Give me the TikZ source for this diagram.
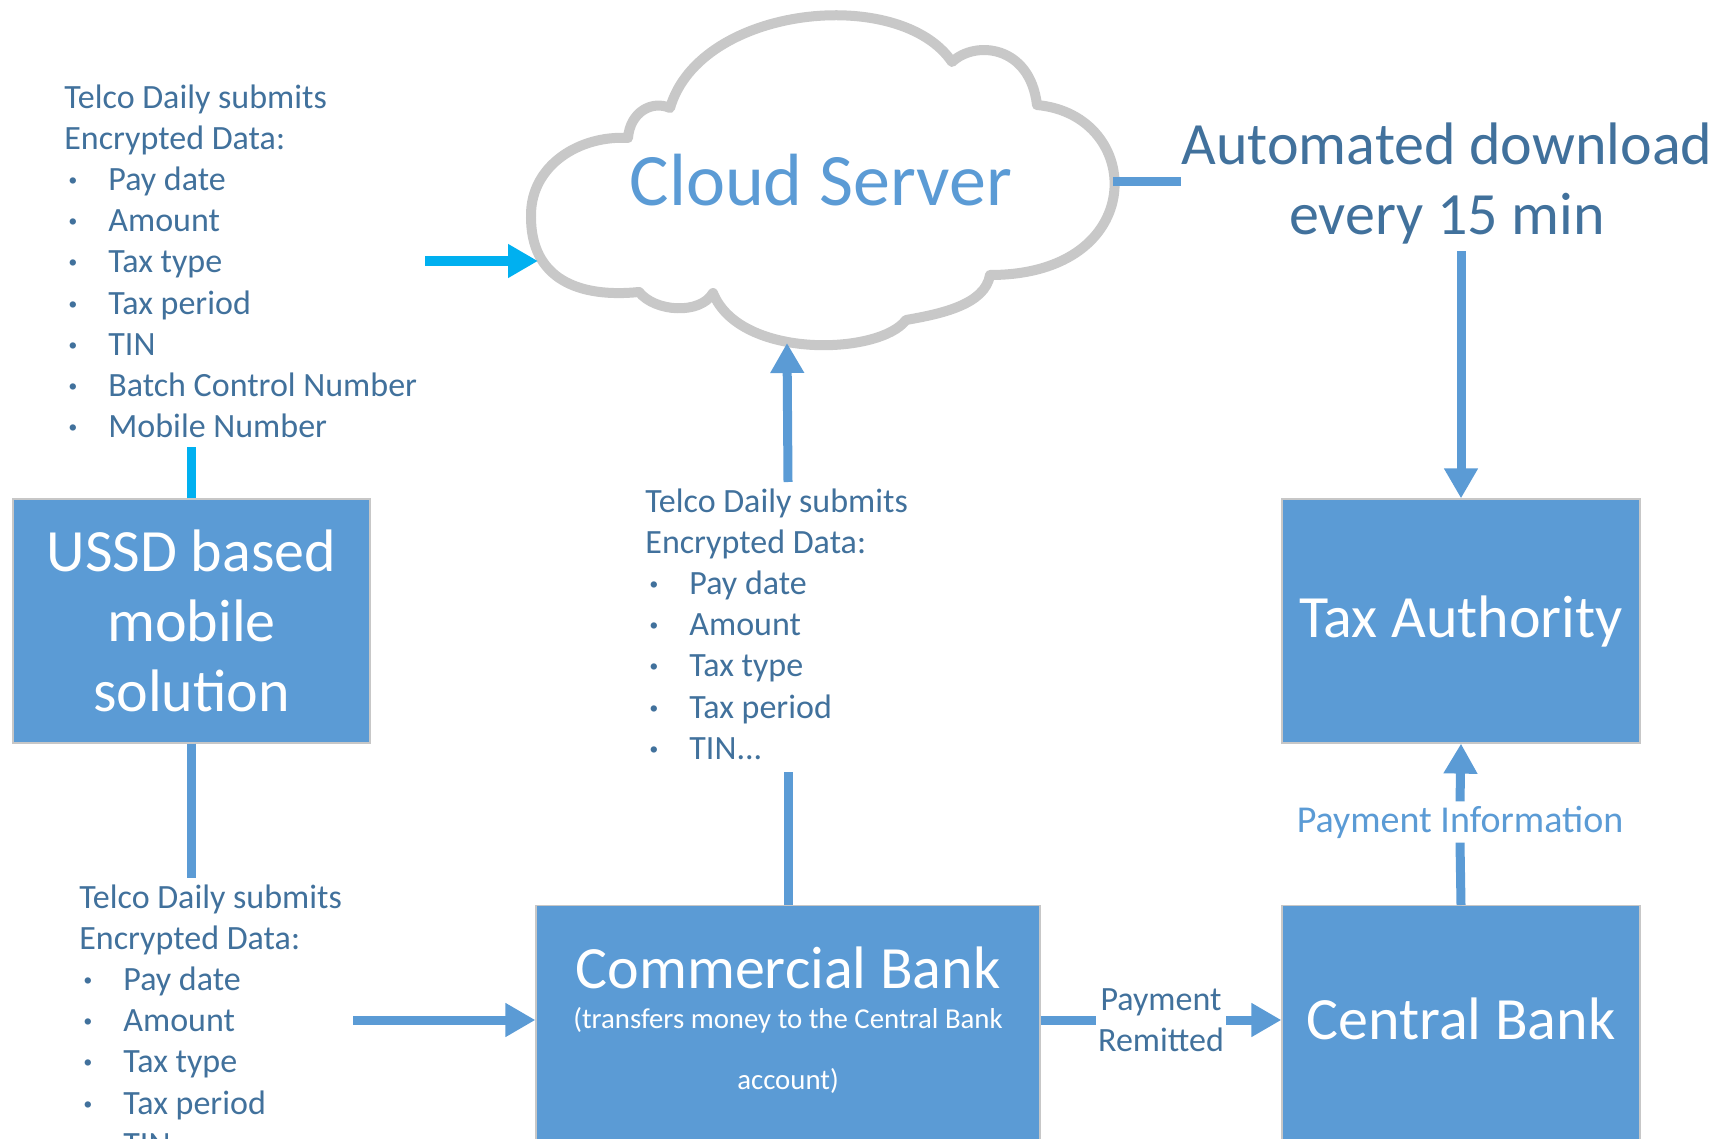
\documentclass[tikz,border=0pt]{standalone}
\usepackage{fontspec}
\setmainfont{Carlito}
\usetikzlibrary{arrows.meta,positioning,calc}

\definecolor{boxblue}{HTML}{5B9BD5}
\definecolor{textblue}{HTML}{41719C}
\definecolor{cyanline}{HTML}{00B0F0}
\definecolor{cloudgray}{HTML}{C8C8C8}

% one bullet line of the data lists
\newcommand{\itm}[1]{\makebox[22pt][l]{\hspace{2pt}\textbf{·}}#1}

\begin{document}
\begin{tikzpicture}[x=0.5pt, y=0.5pt,
    box/.style={draw=black!22, line width=0.6pt, fill=boxblue, inner sep=0pt},
    title/.style={text=white, font=\fontsize{30}{35}\selectfont, align=center, inner sep=0pt},
    list/.style={text=textblue, font=\fontsize{17}{20.6}\selectfont, align=left, inner sep=0pt, anchor=north west},
    link/.style={draw=boxblue, line width=4.5pt},
    arr/.style={link, -{Triangle[width=16pt,length=15pt]}},
]
\useasboundingbox (0,0) rectangle (1728,-1139);

% the cloud
\draw[cloudgray, line width=5pt, fill=white, line join=round]
    (639,-292) .. controls (580,-298) and (530,-280) .. (531,-215)
    .. controls (531,-165) and (580,-135) .. (628,-138)
    .. controls (630,-112) and (652,-100) .. (670,-108)
    .. controls (700,-5) and (900,15) .. (952,-62)
    .. controls (975,-40) and (1030,-45) .. (1037,-105)
    .. controls (1145,-115) and (1150,-275) .. (990,-275)
    .. controls (985,-305) and (940,-314) .. (906,-320)
    .. controls (880,-355) and (740,-360) .. (713,-293)
    .. controls (700,-315) and (655,-312) .. cycle;
\coordinate (cloudW) at (538,-261);
\coordinate (cloudS) at (787,-343);
\coordinate (cloudE) at (1113,-182);
\node[font=\fontsize{37}{44}\selectfont, text=boxblue] (cloudtxt) at (821,-180) {Cloud Server};

\node[text=textblue, font=\fontsize{30}{35}\selectfont, align=center, inner sep=0pt] (auto) at (1447,-184) {Automated download\\every 15 min};

% data lists
\node[list] (toplist) at (64,-84) {Telco Daily submits\\Encrypted Data:\\\itm{Pay date}\\\itm{Amount}\\\itm{Tax type}\\\itm{Tax period}\\\itm{TIN}\\\itm{Batch Control Number}\\\itm{Mobile Number}};
\node[list] (midlist) at (645,-488) {Telco Daily submits\\Encrypted Data:\\\itm{Pay date}\\\itm{Amount}\\\itm{Tax type}\\\itm{Tax period}\\\itm{TIN...}};
\node[list] (botlist) at (79,-884) {Telco Daily submits\\Encrypted Data:\\\itm{Pay date}\\\itm{Amount}\\\itm{Tax type}\\\itm{Tax period}\\\itm{TIN}};

% boxes
\node[box, title, minimum width=178.5pt, minimum height=122pt] (ussd) at (191.5,-621) {USSD based\\mobile\\solution};
\node[box, title, minimum width=179pt, minimum height=122pt] (tax) at (1461,-621) {Tax Authority};
\node[box, minimum width=252pt, minimum height=140pt, anchor=north] (cbank) at (788,-905) {};
\node[box, minimum width=179pt, minimum height=140pt, anchor=north] (central) at (1461,-905) {};
\node[title, anchor=base] (cbanktxt) at (788,-988) {Commercial Bank};
\node[text=white, font=\fontsize{14.4}{17}\selectfont, inner sep=0pt, anchor=base] (cbanknote) at (788,-1028) {(transfers money to the Central Bank};
\node[text=white, font=\fontsize{14.4}{17}\selectfont, inner sep=0pt, anchor=base] (cbanknote2) at (788,-1089) {account)};
\node[title, anchor=base] (centraltxt) at (1461,-1039) {Central Bank};

% labels on the connectors
\node[text=textblue, font=\fontsize{17}{20.6}\selectfont, align=center, inner sep=1pt] (remit) at (1161,-1020) {Payment\\Remitted};
\node[text=boxblue, font=\fontsize{19}{23}\selectfont, inner sep=2pt] (info) at (1460,-822) {Payment Information};

% connectors
\draw[arr, draw=cyanline] ($(toplist.east |- cloudW)+(8,0)$) -- (cloudW);
\draw[link, draw=cyanline] (ussd.north) -- ($(ussd.north |- toplist.south)+(0,-9)$);
\draw[link] (ussd.south) -- ($(ussd.south |- botlist.north)+(0,6)$);
\draw[arr] ($(botlist.east |- remit)+(11,0)$) -- (remit -| cbank.west);
\draw[link] (cbank.north) -- ($(cbank.north |- midlist.south)+(0,-12)$);
\draw[arr] ($(cbank.north |- midlist.north)+(0,6)$) -- (cloudS);
\draw[link] (cloudE) -- (auto.west |- cloudE);
\draw[arr] ($(tax.north |- auto.south)+(0,-6)$) -- (tax.north);
\draw[link] (remit.west -| cbank.east) -- (remit.west);
\draw[arr] (remit.east) -- (remit.east -| central.west);
\draw[link] (central.north) -- (info.south);
\draw[arr] (info.north) -- (tax.south);
\end{tikzpicture}
\end{document}
